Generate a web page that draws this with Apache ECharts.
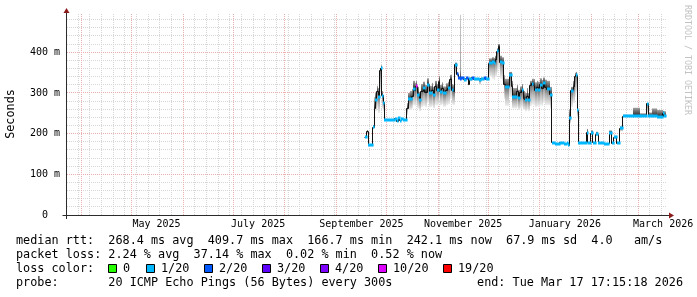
<!DOCTYPE html>
<html><head><meta charset="utf-8">
<script src="https://cdn.jsdelivr.net/npm/echarts@6/dist/echarts.min.js"></script>
<style>html,body{margin:0;padding:0;background:#fff}#c{width:697px;height:297px}</style>
</head><body><div id="c"></div>
<script>
// ---------------- data ----------------
const times = [
'2025-09-18T02:00Z','2025-09-19T07:00Z','2025-09-20T05:00Z','2025-09-22T22:00Z','2025-09-23T19:00Z',
'2025-09-24T10:00Z','2025-09-25T07:00Z','2025-09-26T02:00Z','2025-09-27T02:00Z','2025-09-27T17:00Z',
'2025-09-28T07:00Z','2025-09-29T02:00Z','2025-09-29T17:00Z','2025-10-06T02:00Z','2025-10-07T07:00Z',
'2025-10-08T05:00Z','2025-10-09T02:00Z','2025-10-10T00:00Z','2025-10-10T22:00Z','2025-10-13T02:00Z',
'2025-10-14T02:00Z','2025-10-15T02:00Z','2025-10-16T02:00Z','2025-10-17T02:00Z','2025-10-18T02:00Z',
'2025-10-18T17:00Z','2025-10-19T12:00Z','2025-10-20T17:00Z','2025-10-21T17:00Z','2025-10-23T02:00Z',
'2025-10-24T02:00Z','2025-10-25T12:00Z','2025-10-26T17:00Z','2025-10-28T02:00Z','2025-10-29T02:00Z',
'2025-10-30T02:00Z','2025-10-31T02:00Z','2025-11-01T12:00Z','2025-11-02T02:00Z','2025-11-03T02:00Z',
'2025-11-04T02:00Z','2025-11-05T17:00Z','2025-11-06T17:00Z','2025-11-08T02:00Z','2025-11-09T02:00Z',
'2025-11-10T02:00Z','2025-11-11T02:00Z','2025-11-12T02:00Z','2025-11-13T02:00Z','2025-11-14T02:00Z',
'2025-11-15T00:00Z','2025-11-16T12:00Z','2025-11-17T17:00Z','2025-11-19T02:00Z','2025-11-19T19:00Z',
'2025-11-21T07:00Z','2025-11-22T12:00Z','2025-11-25T12:00Z','2025-11-26T17:00Z','2025-11-28T12:00Z',
'2025-11-29T17:00Z','2025-12-01T12:00Z','2025-12-03T02:00Z','2025-12-04T12:00Z','2025-12-05T10:00Z',
'2025-12-06T02:00Z','2025-12-07T05:00Z','2025-12-08T02:00Z','2025-12-09T07:00Z','2025-12-10T12:00Z',
'2025-12-11T10:00Z','2025-12-13T17:00Z','2025-12-15T02:00Z','2025-12-15T14:00Z','2025-12-17T02:00Z',
'2025-12-18T02:00Z','2025-12-19T02:00Z','2025-12-20T02:00Z','2025-12-21T02:00Z','2025-12-22T02:00Z',
'2025-12-23T02:00Z','2025-12-24T02:00Z','2025-12-25T02:00Z','2025-12-26T02:00Z','2025-12-27T02:00Z',
'2025-12-28T02:00Z','2025-12-29T02:00Z','2025-12-30T02:00Z','2025-12-31T02:00Z','2026-01-01T02:00Z',
'2026-01-02T02:00Z','2026-01-03T02:00Z','2026-01-04T02:00Z','2026-01-05T07:00Z','2026-01-07T02:00Z',
'2026-01-08T02:00Z','2026-01-10T02:00Z','2026-01-13T02:00Z','2026-01-15T12:00Z','2026-01-17T07:00Z',
'2026-01-18T02:00Z','2026-01-18T17:00Z','2026-01-19T17:00Z','2026-01-21T02:00Z','2026-01-22T02:00Z',
'2026-01-22T17:00Z','2026-01-23T12:00Z','2026-01-24T02:00Z','2026-01-29T02:00Z','2026-01-29T22:00Z',
'2026-01-31T12:00Z','2026-02-01T22:00Z','2026-02-03T17:00Z','2026-02-05T05:00Z','2026-02-08T12:00Z',
'2026-02-11T17:00Z','2026-02-13T07:00Z','2026-02-14T12:00Z','2026-02-16T07:00Z','2026-02-18T02:00Z',
'2026-02-19T17:00Z','2026-02-25T22:00Z','2026-03-02T02:00Z','2026-03-06T02:00Z','2026-03-07T05:00Z',
'2026-03-09T07:00Z','2026-03-12T07:00Z','2026-03-15T17:00Z','2026-03-16T12:00Z','2026-03-17T17:15Z'
];
// median round-trip time, ms
const median = [
191,205,171,216,262, 283,303,291,355,361, 293,276,234,236,231, 238,232,237,234,262,
284,285,291,310,305, 316,295,283,303,311, 302,320,299,307,295, 315,306,328,303,311,
299,307,312,332,307, 303,369,346,337,335, 336,333,336,320,335, 337,334,333,335,336,
334,373,376,374,381, 402,414,376,374,320, 315,344,315,291,291, 303,287,300,307,287,
283,291,283,318,322, 319,307,313,307,320, 311,324,313,309,295, 178,175,177,175,176,
172,238,305,315,340, 344,258,177,202,177, 201,178,199,176,175, 202,176,191,176,213,
243,244,243,273,243, 243,242,250,243,242
];
// upper edge of the smoke (slowest pings), ms
const smokeHigh = [
195,209,174,222,290, 300,318,312,362,368, 305,290,236,238,233, 240,234,239,236,275,
300,305,310,330,325, 330,315,302,322,328, 320,336,318,325,315, 330,322,342,320,326,
316,324,328,345,322, 320,375,352,340,492, 340,336,338,336,338, 340,337,336,338,339,
337,385,388,386,392, 410,420,392,388,345, 335,352,330,312,312, 320,308,316,322,305,
300,312,300,330,335, 334,326,330,328,336, 332,338,333,330,315, 180,177,179,177,178,
174,260,315,330,350, 352,280,179,212,179, 208,180,205,178,177, 208,178,195,178,218,
247,264,250,276,252, 262,258,256,255,244
];
// lower edge of the smoke (fastest pings), ms
const smokeLow = [
188,200,168,210,250, 255,262,250,300,310, 262,255,232,234,229, 235,230,234,232,245,
258,258,262,270,268, 272,262,255,265,268, 265,275,265,268,262, 270,270,282,270,272,
266,270,272,285,272, 270,345,338,333,333, 333,331,330,318,328, 334,330,320,330,333,
330,340,335,332,340, 350,360,335,330,285, 268,290,270,262,262, 265,258,262,265,258,
255,258,255,268,272, 270,265,268,266,270, 268,275,270,270,262, 176,173,175,173,174,
170,225,265,275,290, 300,240,175,195,175, 195,176,193,174,173, 196,174,186,174,205,
241,241,241,250,241, 241,240,245,241,240
];
// pings lost out of 20 where a loss-coloured mark shows (null: only the median line shows)
const lossPings = [
1,null,1,1,null, 1,null,1,null,1, 1,1,1,1,1, 1,1,1,1,null,
1,1,null,1,null, 10,1,1,null,1, null,1,1,null,1, null,1,null,1,null,
1,null,1,null,1, null,1,2,2,2, 2,1,2,null,1, 2,1,1,1,2,
1,1,1,1,null, 1,null,1,1,null, 1,1,null,1,1, null,1,null,1,null,
1,null,1,null,1, null,1,null,1,1, null,1,null,1,1, 1,1,1,1,1,
1,1,1,null,null, 1,1,1,1,1, 1,1,1,1,1, 1,1,1,1,1,
1,1,1,1,1, 1,1,1,1,1
];
// axis ticks and labels
const startTime = '2025-03-22T17:15:18Z';
const endTime   = '2026-03-17T17:15:18Z';
const monthStarts = ['2025-04-01T00:00Z','2025-05-01T00:00Z','2025-06-01T00:00Z','2025-07-01T00:00Z',
  '2025-08-01T00:00Z','2025-09-01T00:00Z','2025-10-01T00:00Z','2025-11-01T00:00Z','2025-12-01T00:00Z',
  '2026-01-01T00:00Z','2026-02-01T00:00Z','2026-03-01T00:00Z'];
const firstWeek = '2025-03-23T00:00Z';
const xLabelDates = ['2025-05-16T00:00Z','2025-07-16T00:00Z','2025-09-16T00:00Z','2025-11-16T00:00Z','2026-01-16T00:00Z','2026-03-16T00:00Z'];
const xLabelTexts = ['May 2025','July 2025','September 2025','November 2025','January 2026','March 2026'];
const yTicks = [0,100,200,300,400];
const yTickLabels = ['0  ','100 m','200 m','300 m','400 m'];
const yMinorStep = 20;
const yMax = 494;
// legend
const lossLegendTexts = ['0','1/20','2/20','3/20','4/20','10/20','19/20'];
const lossLegendPings = [0,1,2,3,4,10,19];
const lossColors = {0:'#26ff00',1:'#00b8ff',2:'#0059ff',3:'#5e00ff',4:'#7e00ff',10:'#dd00ff',19:'#ff0000'};
const legendRow1 = 'median rtt:  268.4 ms avg  409.7 ms max  166.7 ms min  242.1 ms now  67.9 ms sd  4.0   am/s';
const legendRow2 = 'packet loss: 2.24 % avg  37.14 % max  0.02 % min  0.52 % now';
const legendRow3 = 'loss color:';
const legendRow4 = 'probe:       20 ICMP Echo Pings (56 Bytes) every 300s';
const legendEnd  = 'end: Tue Mar 17 17:15:18 2026';

// ---------------- build ----------------
const T = times.map(Date.parse);
const START = Date.parse(startTime), END = Date.parse(endTime);
const DAY = 86400000;
const weeks = [];
for (let t = Date.parse(firstWeek); t < END; t += 7*DAY) weeks.push(t);
const months = monthStarts.map(Date.parse);
const yMinor = [];
for (let v = yMinorStep; v < yMax; v += yMinorStep) if (v % 100 !== 0) yMinor.push(v);
const yMajor = yTicks.filter(v => v > 0);

const MONO = '"DejaVu Sans Mono", "Liberation Mono", monospace';
const snap = v => Math.round(v - 0.5) + 0.5;

function vLine(color){
  return function(params, api){
    const t = api.value(0);
    const b = api.coord([t, 0]), top = api.coord([t, yMax]);
    const x = snap(b[0]);
    return {type:'line', shape:{x1:x, y1:b[1], x2:x, y2:top[1]},
      style:{stroke:color, lineWidth:1, lineDash:[1,1]}};
  };
}
function hLine(color){
  return function(params, api){
    const v = api.value(1);
    const l = api.coord([START, v]), r = api.coord([END, v]);
    const y = snap(l[1]);
    return {type:'line', shape:{x1:l[0]+1, y1:y, x2:r[0], y2:y},
      style:{stroke:color, lineWidth:1, lineDash:[1,1]}};
  };
}
const n = T.length;
const medData = T.map((t,i)=>[t, median[i]]);

const option = {
  animation:false,
  backgroundColor:'#ffffff',
  grid:{left:66, right:31, top:14, bottom:82, containLabel:false},
  xAxis:{type:'time', min:START, max:END, axisLine:{show:false}, axisTick:{show:false},
    axisLabel:{show:false}, splitLine:{show:false}},
  yAxis:{type:'value', min:0, max:yMax, interval:100, axisLine:{show:false}, axisTick:{show:false},
    splitLine:{show:false},
    axisLabel:{margin:6, color:'#000', fontFamily:MONO, fontSize:10, showMaxLabel:false,
      formatter: v => { const k = yTicks.indexOf(v); return k < 0 ? '' : yTickLabels[k]; }}},
  series:[
    {type:'custom', z:1, silent:true, data:weeks.map(t=>[t,0]), renderItem:vLine('#d6d6d6')},
    {type:'custom', z:1, silent:true, data:yMinor.map(v=>[START,v]), renderItem:hLine('#d6d6d6')},
    {type:'custom', z:2, silent:true, data:months.map(t=>[t,0]), renderItem:vLine('#eeaeae')},
    {type:'custom', z:2, silent:true, data:yMajor.map(v=>[START,v]), renderItem:hLine('#eeaeae')},
    // smoke
    {type:'custom', z:3, silent:true, data:medData, renderItem:(params, api)=>{
      const i = params.dataIndex; if (i >= n-1) return null;
      const p0 = api.coord([T[i], median[i]]), p1 = api.coord([T[i+1], median[i]]);
      const x0 = Math.round(p0[0]), x1 = Math.max(Math.round(p1[0]), x0+1);
      const ym = p0[1], yh = api.coord([T[i], smokeHigh[i]])[1], yl = api.coord([T[i], smokeLow[i]])[1];
      const kids = [];
      const hu = ym - yh;
      if (hu > 0.5) {
        const o = Math.max(0, 1 - 9/hu);
        kids.push({type:'rect', shape:{x:x0, y:yh, width:x1-x0, height:hu},
          style:{fill:new echarts.graphic.LinearGradient(0,0,0,1,[
            {offset:0, color:'#cbcbcb'},{offset:o, color:'#a4a4a4'},{offset:1, color:'#2a2a2a'}])}});
      }
      const hd = yl - ym;
      if (hd > 0.5) {
        kids.push({type:'rect', shape:{x:x0, y:ym, width:x1-x0, height:hd},
          style:{fill:new echarts.graphic.LinearGradient(0,0,0,1,[
            {offset:0, color:'#6e6e6e'},{offset:0.45, color:'#b4b4b4'},{offset:1, color:'#efefef'}])}});
      }
      return {type:'group', children:kids};
    }},
    // median line
    {type:'custom', z:4, silent:true, data:medData, renderItem:(params, api)=>{
      const i = params.dataIndex; if (i >= n-1) return null;
      const p0 = api.coord([T[i], median[i]]), p1 = api.coord([T[i+1], median[i+1]]);
      const x0 = snap(p0[0]), x1 = snap(p1[0]), y0 = snap(p0[1]), y1 = snap(p1[1]);
      return {type:'polyline', shape:{points:[[x0,y0],[x1,y0],[x1,y1]]},
        style:{stroke:'#111', lineWidth:1, fill:null}};
    }},
    // loss colour marks
    {type:'custom', z:5, silent:true, data:medData, renderItem:(params, api)=>{
      const i = params.dataIndex; if (i >= n-1 || lossPings[i] == null) return null;
      const p0 = api.coord([T[i], median[i]]), p1 = api.coord([T[i+1], median[i]]);
      const x0 = Math.round(p0[0]), x1 = Math.max(Math.round(p1[0]), x0+1);
      const y = Math.round(p0[1]) - 1.5;
      return {type:'rect', shape:{x:x0, y:y, width:x1-x0+0.6, height:3},
        style:{fill:lossColors[lossPings[i]]}};
    }},
    // axes with arrows
    {type:'custom', z:6, silent:true, clip:false, data:[[START,0]], renderItem:(params, api)=>{
      const o = api.coord([START,0]), r = api.coord([END,0]), t = api.coord([START,yMax]);
      const x = snap(o[0]), y = snap(o[1]);
      return {type:'group', children:[
        {type:'line', shape:{x1:x-4, y1:y, x2:r[0]+4, y2:y}, style:{stroke:'#2b2b2b', lineWidth:1}},
        {type:'line', shape:{x1:x, y1:y+3.5, x2:x, y2:t[1]-4}, style:{stroke:'#2b2b2b', lineWidth:1}},
        {type:'polygon', shape:{points:[[r[0]+3,y-3],[r[0]+8,y],[r[0]+3,y+3]]}, style:{fill:'#8b1a1a'}},
        {type:'polygon', shape:{points:[[x-3,t[1]-1],[x,t[1]-6],[x+3,t[1]-1]]}, style:{fill:'#8b1a1a'}}
      ]};
    }},
    // x labels (centred in the middle of the labelled month)
    {type:'custom', z:6, silent:true, clip:false, data:xLabelDates.map(d=>[Date.parse(d),0]), renderItem:(params, api)=>{
      const p = api.coord([api.value(0), 0]);
      return {type:'text', x:p[0], y:p[1]+9.5, style:{text:xLabelTexts[params.dataIndex],
        fontFamily:MONO, fontSize:10, fill:'#000', align:'center', verticalAlign:'middle'}};
    }}
  ],
  graphic:[]
};

const G = option.graphic;
const txt = (text, x, y, extra) => ({type:'text', x:x, y:y, silent:true,
  style:Object.assign({text:text, fontFamily:MONO, fontSize:11.8, fill:'#000', align:'left', verticalAlign:'middle'}, extra||{})});
G.push(txt(legendRow1, 16, 241));
G.push(txt(legendRow2, 16, 255));
G.push(txt(legendRow3, 16, 269));
G.push(txt(legendRow4, 16, 283));
G.push(txt(legendEnd, 683, 283, {align:'right'}));
const boxX = [108,146,204,262,320,378,443];
lossLegendTexts.forEach((s,k)=>{
  G.push({type:'rect', silent:true, shape:{x:boxX[k]+0.5, y:264.5, width:8, height:8},
    style:{fill:lossColors[lossLegendPings[k]], stroke:'#000', lineWidth:1}});
  G.push(txt(s, boxX[k]+15, 269));
});
G.push({type:'text', x:11, y:114, rotation:Math.PI/2, silent:true,
  style:{text:'Seconds', fontFamily:MONO, fontSize:11.8, fill:'#000', align:'center', verticalAlign:'middle'}});
G.push({type:'text', x:687, y:60, rotation:-Math.PI/2, silent:true,
  style:{text:'RRDTOOL / TOBI OETIKER', fontFamily:MONO, fontSize:8.3, fill:'#c2c2c2', align:'center', verticalAlign:'middle'}});

const chart = echarts.init(document.getElementById('c'), null, {renderer:'canvas', width:697, height:297});
chart.setOption(option);
</script>
</body></html>
